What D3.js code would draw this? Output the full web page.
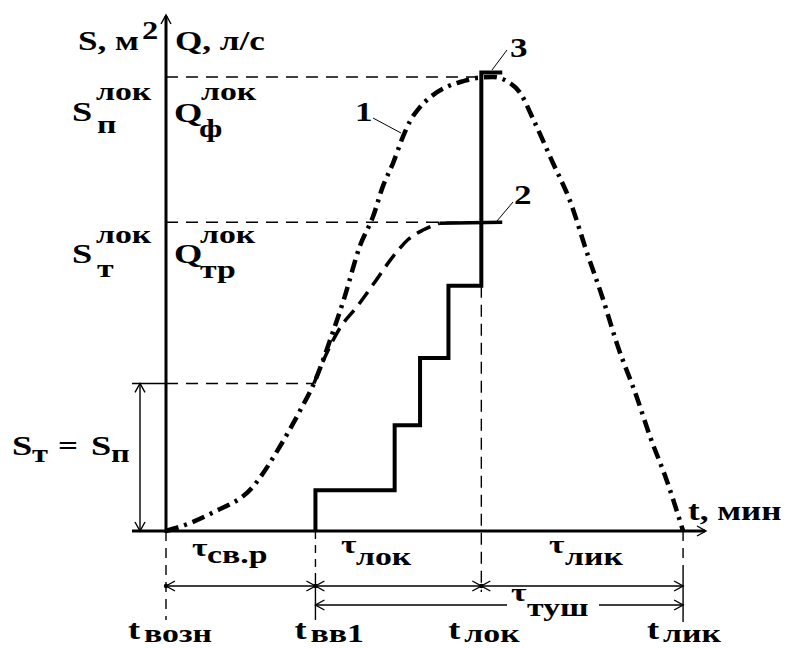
<!DOCTYPE html>
<html>
  <body style="margin:0;background:#fff">
    <script src="https://d3js.org/d3.v7.min.js"></script>
    <script type="text/javascript">
      const width = 790;
      const height = 648;

      // moments on the time axis (min): t_возн, t_вв1, t_лок, t_лик
      const tMarks = [0, 10, 21.1, 34.6];
      const tMarkNames = ['возн', 'вв1', 'лок', 'лик'];
      // area / flow levels: S_п^лок, S_т^лок, S_т = S_п
      const sLevels = [100, 68, 32.5];

      // curve 1: fire area S(t)
      const curve1T = [0, 0.9, 3.1, 5.8, 7.6, 9.0, 9.9, 11.1, 11.9, 13.0, 13.85, 14.5, 15.2, 15.85, 16.3, 17.0, 17.7, 18.9, 19.9, 20.8, 21.9, 22.9, 23.7, 24.6, 25.9, 27.0, 28.2, 29.2, 30.2, 31.5, 32.4, 33.5, 34.6];
      const curve1S = [0, 0.9, 4, 9.7, 18.5, 26.7, 32.5, 43.2, 51, 63, 69.2, 75.8, 81.1, 86.8, 90.1, 93.4, 95.6, 98, 99.1, 99.8, 100, 98.9, 96.5, 90.5, 81, 73, 61, 51.5, 41, 29.5, 20.7, 11.2, 0];
      // curve 2: required flow
      const curve2T = [9.9, 10.8, 11.6, 12.8, 13.9, 15.2, 16.2, 17.2, 18.3, 22.5];
      const curve2S = [32.5, 39.5, 44.5, 49.5, 54.5, 60.5, 64.2, 66.3, 67.8, 68];
      // curve 3: actual flow, stepwise
      const stepT = [10, 10, 15.3, 17.0, 18.9, 21.1, 22.5];
      const stepS = [0, 9, 23.3, 38.1, 54, 101, 101];

      const x = d3.scaleLinear().domain([0, 36]).range([166, 704]);
      const y = d3.scaleLinear().domain([0, 113]).range([531, 18]);

      const svg = d3.select('body').append('svg')
        .attr('width', width).attr('height', height);

      const thin = (sel) => sel.attr('stroke', '#000').attr('stroke-width', 1.4).attr('fill', 'none');
      const seg = (x1, y1, x2, y2) => svg.append('line')
        .attr('x1', x1).attr('y1', y1).attr('x2', x2).attr('y2', y2);

      // horizontal dashed guide lines
      const guideEnds = [x(tMarks[2]), x(tMarks[2]), x(9.9)];
      sLevels.forEach((s, i) => {
        thin(seg(x(0), y(s), guideEnds[i], y(s))).attr('stroke-dasharray', '12,8');
      });

      // vertical dashed guide lines
      thin(seg(x(tMarks[0]), y(0), x(tMarks[0]), 620)).attr('stroke-dasharray', '10,7');
      thin(seg(x(tMarks[1]), y(0), x(tMarks[1]), 576)).attr('stroke-dasharray', '8,6');
      thin(seg(x(tMarks[1]), 576, x(tMarks[1]), 620));
      thin(seg(x(tMarks[2]), y(54), x(tMarks[2]), 592)).attr('stroke-dasharray', '12,7');
      thin(seg(x(tMarks[3]), y(0), x(tMarks[3]), 574)).attr('stroke-dasharray', '10,7');
      thin(seg(x(tMarks[3]), 574, x(tMarks[3]), 622));

      // chevron helper (open arrowhead), dir: 'l','r','u','d'
      function chevron(px, py, dir) {
        const L = 9, W = 5;
        let pts;
        if (dir === 'l') pts = [[px + L, py - W], [px, py], [px + L, py + W]];
        if (dir === 'r') pts = [[px - L, py - W], [px, py], [px - L, py + W]];
        if (dir === 'u') pts = [[px - W, py + L], [px, py], [px + W, py + L]];
        if (dir === 'd') pts = [[px - W, py - L], [px, py], [px + W, py - L]];
        thin(svg.append('path').attr('d', d3.line()(pts)));
      }
      const dot = (px, py) => svg.append('circle').attr('cx', px).attr('cy', py).attr('r', 2.2).attr('fill', '#000');

      // dimension line 1
      const dimY1 = 586, dimY2 = 605;
      thin(seg(x(tMarks[0]), dimY1, x(tMarks[3]), dimY1));
      chevron(x(tMarks[0]), dimY1, 'l'); dot(x(tMarks[0]), dimY1);
      [1, 2].forEach(i => {
        chevron(x(tMarks[i]), dimY1, 'l');
        chevron(x(tMarks[i]), dimY1, 'r');
        dot(x(tMarks[i]), dimY1);
      });
      chevron(x(tMarks[3]), dimY1, 'r');
      // dimension line 2 (τ туш)
      thin(seg(x(tMarks[1]), dimY2, 507, dimY2));
      thin(seg(599, dimY2, x(tMarks[3]), dimY2));
      chevron(x(tMarks[1]), dimY2, 'l');
      chevron(x(tMarks[3]), dimY2, 'r');

      // S_т = S_п vertical dimension
      thin(seg(132, y(sLevels[2]), x(0), y(sLevels[2])));
      thin(seg(140, y(sLevels[2]), 140, y(0)));
      chevron(140, y(sLevels[2]), 'u');
      chevron(140, y(0), 'd');

      // axes
      svg.append('line').attr('x1', 132).attr('y1', y(0)).attr('x2', 705).attr('y2', y(0))
        .attr('stroke', '#000').attr('stroke-width', 3);
      svg.append('line').attr('x1', x(0)).attr('y1', y(0) + 2).attr('x2', x(0)).attr('y2', 16)
        .attr('stroke', '#000').attr('stroke-width', 3);
      chevron(x(0), 15, 'u');
      chevron(706, y(0), 'r');

      // curves
      const line1 = d3.line().x((d, i) => x(curve1T[i])).y((d, i) => y(curve1S[i])).curve(d3.curveMonotoneX);
      svg.append('path').attr('d', line1(curve1T))
        .attr('fill', 'none').attr('stroke', '#000').attr('stroke-width', 4.5)
        .attr('stroke-dasharray', '13,6,3,6');

      const line2 = d3.line().x((d, i) => x(curve2T[i])).y((d, i) => y(curve2S[i])).curve(d3.curveMonotoneX);
      const dashedPart = curve2T.slice(0, curve2T.length - 1);
      svg.append('path').attr('d', line2(dashedPart))
        .attr('fill', 'none').attr('stroke', '#000').attr('stroke-width', 3.5)
        .attr('stroke-dasharray', '15,8');
      const n2 = curve2T.length;
      svg.append('line')
        .attr('x1', x(curve2T[n2 - 2])).attr('y1', y(curve2S[n2 - 2]))
        .attr('x2', x(curve2T[n2 - 1])).attr('y2', y(curve2S[n2 - 1]))
        .attr('stroke', '#000').attr('stroke-width', 3.5);

      const line3 = d3.line().x((d, i) => x(stepT[i])).y((d, i) => y(stepS[i])).curve(d3.curveStepAfter);
      svg.append('path').attr('d', line3(stepT))
        .attr('fill', 'none').attr('stroke', '#000').attr('stroke-width', 4);

      // text helper: Times-like bold, stretched horizontally like the scan
      const SX = 1.3;
      function txt(px, py, s, size, anchor) {
        return svg.append('text')
          .attr('transform', `translate(${px},${py}) scale(${SX},1)`)
          .attr('font-family', '"Liberation Serif", "DejaVu Serif", serif')
          .attr('font-weight', 'bold')
          .attr('font-size', size)
          .attr('text-anchor', anchor || 'start')
          .attr('fill', '#000')
          .text(s);
      }

      // curve numbers with leaders
      const curveNums = ['1', '2', '3'];
      const numPos = [[355, 121], [514, 204], [510, 57]];
      const leaders = [[373, 118, 401, 133], [513, 202, 497, 221], [507, 50, 492, 70]];
      curveNums.forEach((n, i) => {
        txt(numPos[i][0], numPos[i][1], n, 27);
        const l = leaders[i];
        svg.append('line').attr('x1', l[0]).attr('y1', l[1]).attr('x2', l[2]).attr('y2', l[3])
          .attr('stroke', '#000').attr('stroke-width', 1);
      });

      // axis titles
      txt(78, 50, 'S, м', 27);
      txt(142, 39, '2', 25);
      txt(175, 50, 'Q, л/с', 27);
      txt(688, 520, 't, мин', 27);

      // level labels
      txt(72, 121, 'S', 28); txt(96, 100, 'лок', 26); txt(97, 133, 'п', 26);
      txt(174, 122, 'Q', 28); txt(201, 100, 'лок', 26); txt(199, 137, 'ф', 26);
      txt(72, 263, 'S', 28); txt(96, 243, 'лок', 26); txt(97, 277, 'т', 26);
      txt(174, 263, 'Q', 28); txt(200, 243, 'лок', 26); txt(200, 278, 'тр', 26);
      txt(12, 455, 'S', 28); txt(32, 462, 'т', 25); txt(58, 455, '=', 27);
      txt(91, 455, 'S', 28); txt(111, 462, 'п', 25);

      // interval labels
      const tau = [['св.р', 192, 556, 207, 563], ['лок', 341, 553, 356, 565], ['лик', 549, 553, 565, 565], ['туш', 511, 601, 527, 616]];
      tau.forEach(d => { txt(d[1], d[2], 'τ', 26); txt(d[3], d[4], d[0], 26); });

      // time mark labels
      const tLabelDx = [-38, -21, -33, -36];
      tMarks.forEach((t, i) => {
        const px = x(t) + tLabelDx[i];
        txt(px, 639, 't', 28);
        txt(px + 16, 642, tMarkNames[i], 26);
      });
    </script>
  </body>
</html>
